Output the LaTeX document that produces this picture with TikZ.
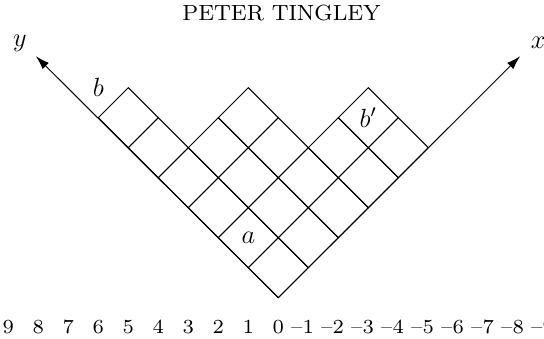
\documentclass[tikz,border=0pt]{standalone}
\usepackage{amsmath,amssymb}
\usepackage[OT1,TU]{fontenc}
\usepackage{tikz}
\usetikzlibrary{arrows.meta}

% small design size, blown up
\newcommand{\smallscaled}[3]{\scalebox{#1}{\fontencoding{OT1}\fontfamily{cmr}\fontsize{#2}{#2}\selectfont #3}}

\begin{document}
\begin{tikzpicture}[
  x=0.48cm, y=0.48cm, >={Latex[length=2.2mm, width=1.4mm]},
  cell/.style={draw, line width=0.45pt},
  axis/.style={->, line width=0.45pt},
  lab/.style={font=\large, inner sep=0pt},
  num/.style={anchor=base, inner sep=0pt}]
\useasboundingbox (-9.277,-1.377) rectangle (8.857,9.923);
\node (head) at (0.11,9.5) {\smallscaled{1.25}{8}{PETER TINGLEY}};
\coordinate (o) at (0,0);
\coordinate (ytip) at (-8.08,8.05);
\coordinate (xtip) at (8.06,8.05);
\draw[axis] (o) -- (ytip);
\draw[axis] (o) -- (xtip);
\node[lab] (ylab) at (-8.61,8.49) {$y$};
\node[lab] (xlab) at (8.66,8.49) {$x$};
% columns of the diagram, i/height
\foreach \i/\h in {0/6,1/4,2/4,3/2,4/2}
  \foreach \j in {1,...,\h}
    \draw[cell] ({\i-\j+1},{\i+\j-1}) -- ++(1,1) -- ++(-1,1) -- ++(-1,-1) -- cycle;
\node[lab] (a) at (-1,2) {$a$};
\node[lab] (b) at (-6,7) {$b$};
\node[lab] (bp) at (3,6) {$b'$};
% contents along the bottom
\foreach \k in {0,...,9}
  \node[num] (p\k) at (-\k,-1.18) {\smallscaled{1.3}{7}{\k}};
\foreach \k in {1,...,9}
  \node[num] (m\k) at (\k,-1.18) {\smallscaled{1.3}{7}{\llap{--}\k}};
\end{tikzpicture}
\end{document}
